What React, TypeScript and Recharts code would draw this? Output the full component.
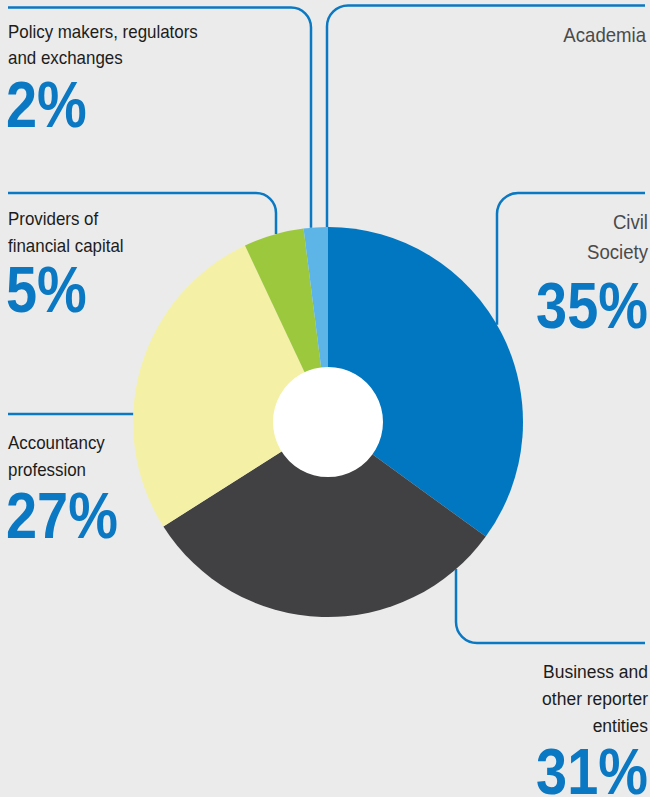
import React from 'react';
import { PieChart, Pie, Cell } from 'recharts';

// Share of respondents by stakeholder group (%)
const groups = [
    'Civil Society',
    'Business and other reporter entities',
    'Accountancy profession',
    'Providers of financial capital',
    'Policy makers, regulators and exchanges',
    'Academia',
];
const shares = [35, 31, 27, 5, 2, 0];
const colors = ['#0077c0', '#414143', '#f4f1a6', '#9cc83d', '#5cb5e6', '#5cb5e6'];

const W = 650;
const H = 797;
const CX = 328;
const CY = 422;
const R = 195;
const HOLE = 55;

const BLUE = '#0a78c2';
const FONT = '"Liberation Sans", Arial, sans-serif';

const chartData = groups.map((name, i) => ({ name, value: shares[i] }));

// y of the pie's rim for a given x (upper or lower half)
const rimY = (x: number, upper: boolean) => {
    const d = Math.sqrt(R * R - (x - CX) * (x - CX));
    return upper ? CY - d : CY + d;
};

// condensed text: squeeze horizontally around the anchor point
const T = ({ x, y, size, sx, color, bold, end, children }: any) => (
    <text
        transform={`translate(${x} ${y}) scale(${sx} 1)`}
        fontFamily={FONT}
        fontSize={size}
        fontWeight={bold ? 700 : 400}
        fill={color}
        textAnchor={end ? 'end' : 'start'}
    >
        {children}
    </text>
);

const Label = (p: any) => <T size={18} sx={0.94} color="#1c1c1c" {...p} />;
const Pct = (p: any) => <T size={65} sx={0.86} color={BLUE} bold {...p} />;

const Callouts = () => {
    const line = { fill: 'none', stroke: BLUE, strokeWidth: 2.5 };
    return (
        <svg width={W} height={H} style={{ position: 'absolute', left: 0, top: 0, pointerEvents: 'none' }}>
            {/* leader lines */}
            <path d={`M 8 7.5 H 291 A 20 20 0 0 1 311 27.5 V ${rimY(311, true)}`} {...line} />
            <path d={`M 645 5.5 H 348 A 21 21 0 0 0 327 26.5 V ${rimY(327, true)}`} {...line} />
            <path d={`M 8 193 H 256 A 20 20 0 0 1 276 213 V ${rimY(276, true)}`} {...line} />
            <path d={`M 645 193 H 518 A 21 21 0 0 0 497 214 V ${rimY(497, true)}`} {...line} />
            <path d={`M 8 414 H ${CX - Math.sqrt(R * R - (414 - CY) * (414 - CY))}`} {...line} />
            <path d={`M 456 ${rimY(456, false)} V 622 A 21 21 0 0 0 477 643 H 645`} {...line} />

            {/* Policy makers */}
            <Label x={8} y={38}>Policy makers, regulators</Label>
            <Label x={8} y={64}>and exchanges</Label>
            <Pct x={6} y={127}>{shares[4]}%</Pct>

            {/* Academia */}
            <Label x={646} y={42} size={20} sx={0.93} color="#4a4a4a" end>Academia</Label>

            {/* Providers */}
            <Label x={8} y={225}>Providers of</Label>
            <Label x={8} y={252}>financial capital</Label>
            <Pct x={6} y={312}>{shares[3]}%</Pct>

            {/* Civil society */}
            <Label x={648} y={229} size={20} sx={0.93} color="#4a4a4a" end>Civil</Label>
            <Label x={648} y={259} size={20} sx={0.93} color="#4a4a4a" end>Society</Label>
            <Pct x={648} y={328} end>{shares[0]}%</Pct>

            {/* Accountancy */}
            <Label x={8} y={449}>Accountancy</Label>
            <Label x={8} y={476}>profession</Label>
            <Pct x={6} y={538}>{shares[2]}%</Pct>

            {/* Business */}
            <Label x={648} y={678} size={19} sx={0.92} end>Business and</Label>
            <Label x={648} y={705} size={19} sx={0.92} end>other reporter</Label>
            <Label x={648} y={732} size={19} sx={0.92} end>entities</Label>
            <Pct x={648} y={794} end>{shares[1]}%</Pct>
        </svg>
    );
};

export default function App() {
    return (
        <div style={{ position: 'absolute', left: 0, top: 0, width: W, height: H, background: '#ebebeb', overflow: 'hidden' }}>
            <PieChart width={W} height={H} margin={{ top: 0, right: 0, bottom: 0, left: 0 }}>
                <Pie
                    data={chartData}
                    dataKey="value"
                    nameKey="name"
                    cx={CX}
                    cy={CY}
                    outerRadius={R}
                    innerRadius={0}
                    startAngle={90}
                    endAngle={-270}
                    stroke="none"
                    isAnimationActive={false}
                >
                    {chartData.map((d, i) => (
                        <Cell key={d.name} fill={colors[i]} />
                    ))}
                </Pie>
                <Pie
                    data={[{ name: 'hole', value: 1 }]}
                    dataKey="value"
                    cx={CX}
                    cy={CY}
                    outerRadius={HOLE}
                    fill="#ffffff"
                    stroke="none"
                    isAnimationActive={false}
                />
            </PieChart>
            <Callouts />
        </div>
    );
}
